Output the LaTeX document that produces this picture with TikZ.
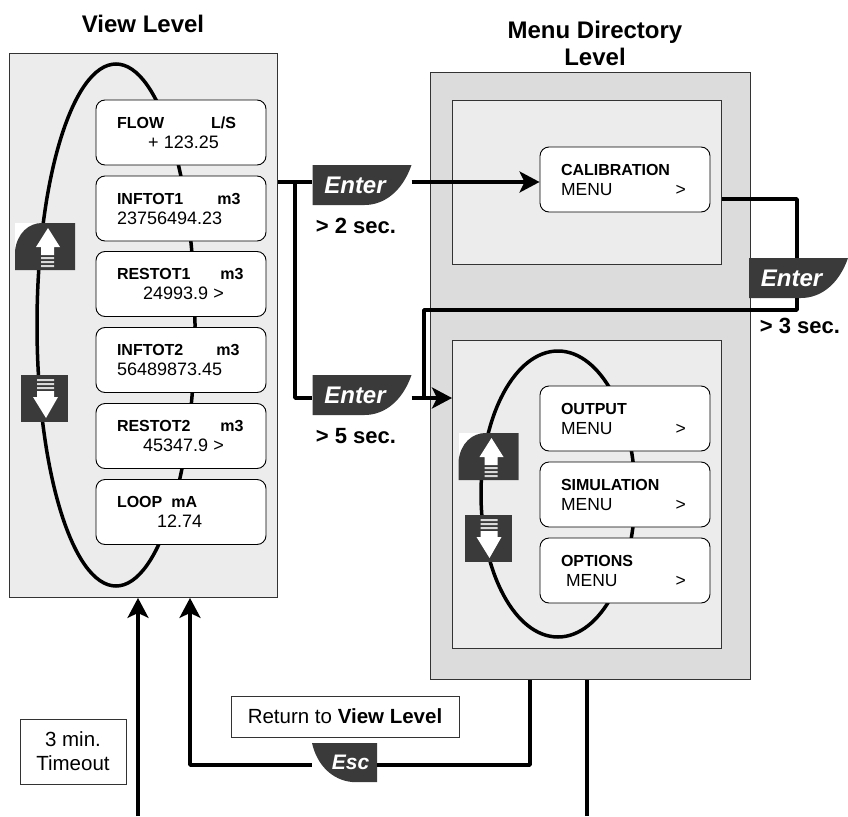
\documentclass[tikz,border=0pt]{standalone}
\usepackage{fontspec}
\setmainfont{Liberation Sans}
\usetikzlibrary{arrows.meta,calc}
\definecolor{keydark}{HTML}{3A3A3A}
\definecolor{panellight}{HTML}{ECECEC}
\definecolor{paneldark}{HTML}{DCDCDC}
\definecolor{edgegray}{HTML}{333333}
\newcommand{\hdline}[1]{{\bfseries #1}}
\newcommand{\numline}[1]{{\fontsize{18}{20}\selectfont #1}}
\newcommand{\mnline}[1]{{\fontsize{17.5}{20}\selectfont #1}}
\tikzset{
  panel/.style={draw=edgegray,line width=0.9pt,anchor=north west,inner sep=0pt},
  dispbox/.style={draw=black,fill=white,line width=0.9pt,rounded corners=9pt,minimum width=170pt,minimum height=65pt,
     inner xsep=21pt,inner ysep=0pt,text width=128pt,align=left,font=\fontsize{16}{20}\selectfont},
  loopline/.style={line width=3.5pt,black},
  flow/.style={line width=3.5pt,black,line join=round},
  head/.style={-{Stealth[length=20pt,width=21pt,inset=5pt]}},
  enterkey/.style={minimum width=99pt,minimum height=40pt,inner sep=0pt,text=white,
     font=\fontsize{24}{25}\selectfont\bfseries\itshape},
  esckey/.style={minimum width=65pt,minimum height=39pt,inner sep=0pt,text=white,
     font=\fontsize{21}{22}\selectfont\bfseries\itshape},
  entershape/.pic={\fill[keydark] (0,0) -- (99,0) .. controls (90,26) and (72,40) .. (52,40) -- (0,40) -- cycle;},
  escshape/.pic={\fill[keydark] (0,0) -- (65,0) -- (65,39) -- (40,39) .. controls (20,37) and (5,22) .. (0,0) -- cycle;},
  upshape/.pic={\fill[white] (0,0) rectangle (60,47);
     \fill[keydark] (0,47) -- (0,28) .. controls (2,10) and (14,0) .. (27,0) -- (60,0) -- (60,47) -- cycle;
     \fill[white] (33,5) -- (45,24) -- (39,24) -- (39,32) -- (26,32) -- (26,24) -- (21,24) -- cycle;
     \fill[white!85!black] (26,34) rectangle (39,36) (26,38) rectangle (39,40) (26,42) rectangle (39,44);},
  downshape/.pic={\fill[keydark] (0,0) rectangle (47,47);
     \fill[white!85!black] (16,4) rectangle (33,6) (16,8) rectangle (33,10) (16,12) rectangle (33,14);
     \fill[white] (16,16) -- (33,16) -- (33,22) -- (37,22) -- (25,43) -- (12,22) -- (16,22) -- cycle;},
  title/.style={font=\fontsize{24}{27}\selectfont\bfseries,align=center},
  note/.style={font=\fontsize{22}{24}\selectfont\bfseries},
  tagbox/.style={draw=edgegray,fill=white,line width=0.9pt,inner sep=0pt,align=center,font=\fontsize{20.5}{24}\selectfont}
}
\begin{document}
\begin{tikzpicture}[x=1pt,y=-1pt]
\useasboundingbox (0,0) rectangle (848,816);
% titles
\node[title] (ttlview) at (143,24) {View Level};
\node[title] (ttlmenu) at (595,43) {Menu Directory\\Level};
% panels
\node[panel,fill=panellight,minimum width=268pt,minimum height=544pt] (view) at (9,53) {};
\node[panel,fill=paneldark,minimum width=320pt,minimum height=607pt] (outer) at (430,72) {};
\node[panel,fill=panellight,minimum width=269pt,minimum height=164pt] (inA) at (452,100) {};
\node[panel,fill=panellight,minimum width=269pt,minimum height=308pt] (inB) at (452,340) {};
% loops
\draw[loopline] (116,325) ellipse [x radius=79,y radius=261];
\draw[loopline] (558,494) ellipse [x radius=77,y radius=143];
% view displays
\node[dispbox] (flowbox) at (181,132.5) {\hdline{FLOW\hspace{47pt}L/S}\\\numline{\hspace*{31pt}+ 123.25}};
\node[dispbox] (inf1) at (181,208.5) {\hdline{INFTOT1\hspace{34pt}m3}\\\numline{23756494.23}};
\node[dispbox] (res1) at (181,284) {\hdline{RESTOT1\hspace{30pt}m3}\\\numline{\hspace*{26pt}24993.9 >}};
\node[dispbox] (inf2) at (181,360) {\hdline{INFTOT2\hspace{33pt}m3}\\\numline{56489873.45}};
\node[dispbox] (res2) at (181,436) {\hdline{RESTOT2\hspace{30pt}m3}\\\numline{\hspace*{26pt}45347.9 >}};
\node[dispbox] (loopb) at (181,512) {\hdline{LOOP\hspace{9pt}mA}\\\numline{\hspace*{40pt}12.74}};
% menu displays
\node[dispbox] (cal) at (625,179.5) {\hdline{CALIBRATION}\\\mnline{MENU\hspace{63pt}>}};
\node[dispbox] (outp) at (625,418.5) {\hdline{OUTPUT}\\\mnline{MENU\hspace{63pt}>}};
\node[dispbox] (simu) at (625,494.5) {\hdline{SIMULATION}\\\mnline{MENU\hspace{63pt}>}};
\node[dispbox] (opts) at (625,570.5) {\hdline{OPTIONS}\\\mnline{\hspace*{5pt}MENU\hspace{58pt}>}};
% arrow keys
\pic at (15,223) {upshape};
\pic at (21,375) {downshape};
\pic at (458.5,433) {upshape};
\pic at (464.5,515) {downshape};
% enter / esc keys
\pic at (312.5,165) {entershape};
\pic at (312.5,375) {entershape};
\pic at (749,258) {entershape};
\pic at (312,743) {escshape};
\node[enterkey] (enter1) at (362,185) {Enter\hspace*{14pt}};
\node[enterkey] (enter2) at (362,395) {Enter\hspace*{14pt}};
\node[enterkey] (enter3) at (798.5,278) {Enter\hspace*{14pt}};
\node[esckey] (esc) at (344.5,762.5) {\hspace*{12pt}Esc};
% labels
\node[note] (t2s) at (356,226) {> 2 sec.};
\node[note] (t5s) at (356,436) {> 5 sec.};
\node[note] (t3s) at (800,326) {> 3 sec.};
\node[tagbox,minimum width=228pt,minimum height=41pt] (ret) at (345,716.5) {Return to \textbf{View Level}};
\node[tagbox,minimum width=106pt,minimum height=65pt] (tmo) at (73,751.5) {3 min.\\Timeout};
% connector anchors
\coordinate (e1l) at ([yshift=3pt]enter1.west);
\coordinate (e1r) at ([yshift=3pt]enter1.east);
\coordinate (e2l) at ([yshift=-3pt]enter2.west);
\coordinate (e2r) at ([yshift=-3pt]enter2.east);
\coordinate (split) at (295,182);
\coordinate (c1) at (797,199);
\coordinate (c2) at (797,310);
\coordinate (c3) at (424,310);
\coordinate (escl) at ([yshift=-2.5pt]esc.west);
\coordinate (escr) at ([yshift=-2.5pt]esc.east);
\coordinate (tmofree) at (138,816);
\coordinate (tmoout) at (587,816);
\coordinate (retup) at (190,765);
\coordinate (retdown) at (530,765);
% connectors
\draw[flow] (view.east |- e1l) -- (e1l);
\draw[flow] (split) -- (split |- e2l) -- (e2l);
\draw[flow,head] (e1r) -- (cal.west |- e1r);
\draw[flow,head] (e2r) -- (inB.west |- e2r);
\draw[flow] (inA.east |- c1) -- (c1) -- (c1 |- enter3.north);
\draw[flow] (c1 |- enter3.south) -- (c2) -- (c3) -- (c3 |- e2r);
\draw[flow,head] (escl) -- (retup) -- (retup |- view.south);
\draw[flow] (escr) -- (retdown) -- (retdown |- outer.south);
\draw[flow,head] (tmofree) -- (tmofree |- view.south);
\draw[flow] (tmoout) -- (tmoout |- outer.south);
\end{tikzpicture}
\end{document}
